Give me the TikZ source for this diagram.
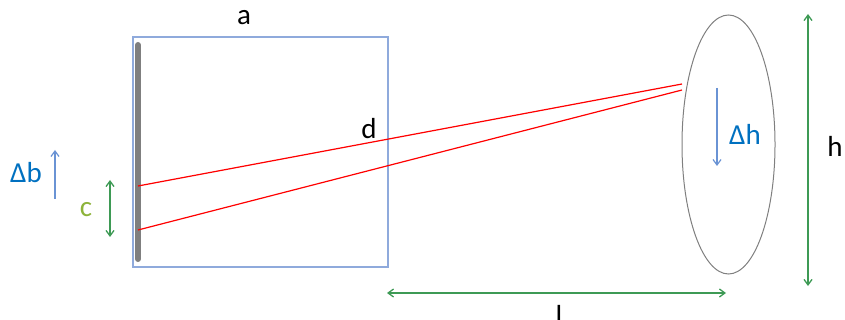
\documentclass[tikz,border=0pt]{standalone}
\usepackage{fontspec}
\setmainfont{Carlito}
\usetikzlibrary{arrows.meta}

\definecolor{boxblue}{HTML}{8FAADC}
\definecolor{arrowblue}{HTML}{6A93D4}
\definecolor{textblue}{HTML}{0070C0}
\definecolor{dimgreen}{HTML}{3E9A55}
\definecolor{olive}{HTML}{8DB33A}
\definecolor{raygray}{HTML}{7F7F7F}

\tikzset{
  lbl/.style={font=\fontsize{29}{34}\selectfont, inner sep=0pt},
  dimarrow/.style={dimgreen, line width=1.3pt, {Straight Barb[length=5.5pt,width=8pt]}-{Straight Barb[length=5.5pt,width=8pt]}},
  movearrow/.style={arrowblue, line width=1.2pt, -{Straight Barb[length=5.5pt,width=8pt]}},
  ray/.style={red, line width=1.2pt}
}

\begin{document}
\begin{tikzpicture}[x=1pt, y=-1pt]
  \useasboundingbox (0,0) rectangle (845,320);
  % box and screen
  \draw[boxblue, line width=1.3pt] (133,37) rectangle (388,267);
  \draw[raygray, line width=6pt, line cap=round] (138,45) -- (138,259);
  \node[lbl] (a) at (244,18) {a};
  \node[lbl] (d) at (369,129) {d};
  % rays
  \coordinate (r1) at (138,186);
  \coordinate (r2) at (138,230);
  \coordinate (s1) at (682,84);
  \coordinate (s2) at (682,90);
  \draw[ray] (r1) -- (s1);
  \draw[ray] (r2) -- (s2);
  % object
  \draw[raygray, line width=1pt] (728.5,144.5) ellipse [x radius=46.5, y radius=129.5];
  \coordinate (dh1) at (717,88);
  \coordinate (dh2) at (717,166);
  \draw[movearrow] (dh1) -- (dh2);
  \node[lbl, textblue] (dh) at (745,134) {Δh};
  % dimensions
  \coordinate (h1) at (808,14);
  \coordinate (h2) at (808,286);
  \draw[dimarrow] (h1) -- (h2);
  \node[lbl] (h) at (835,146) {h};
  \coordinate (l1) at (387,293);
  \coordinate (l2) at (726,293);
  \draw[dimarrow] (l1) -- (l2);
  \node[lbl, anchor=base] (l) at (559,325) {l};
  \coordinate (db1) at (55,199);
  \coordinate (db2) at (55,150);
  \draw[movearrow] (db1) -- (db2);
  \node[lbl, textblue] (db) at (26,173) {Δb};
  \coordinate (c1) at (110,180);
  \coordinate (c2) at (110,237);
  \draw[dimarrow] (c1) -- (c2);
  \node[lbl, olive] (c) at (86,210) {c};
\end{tikzpicture}
\end{document}
